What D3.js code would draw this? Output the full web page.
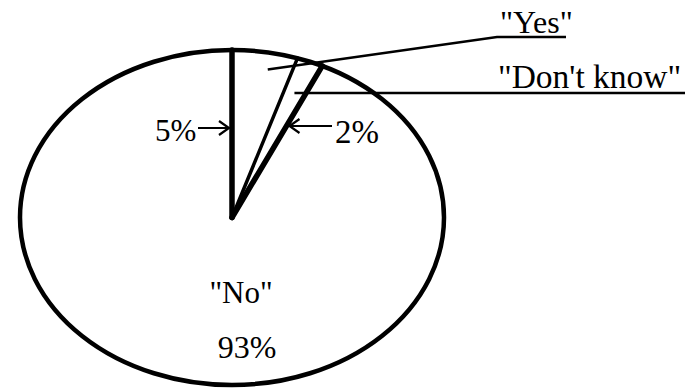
<!DOCTYPE html>
<html>
<head>
<meta charset="utf-8">
<script src="https://cdn.jsdelivr.net/npm/d3@7"></script>
<style>
  body { margin: 0; background: #fff; }
  svg { display: block; }
  text { font-family: 'Liberation Serif', 'Times New Roman', serif; fill: #000; }
</style>
</head>
<body>
<div id="chart"></div>
<script>
var categories = ['"Yes"', '"Don\'t know"', '"No"'];
var values = [5, 2, 93];
var pctLabels = ['5%', '2%', '93%'];

var width = 685, height = 392;
var cx = 232, cy = 217.5, rx = 212, ry = 167.5;

var svg = d3.select('#chart').append('svg').attr('width', width).attr('height', height);

var pie = d3.pie().sort(null).value(function (d) { return d; });
var arcs = pie(values);

// unit-circle space -> stretched (elliptical) page space
var sx = d3.scaleLinear().domain([-1, 1]).range([cx - rx, cx + rx]);
var sy = d3.scaleLinear().domain([-1, 1]).range([cy - ry, cy + ry]);
function pt(angle, r) { var p = d3.pointRadial(angle, r); return [sx(p[0]), sy(p[1])]; }
// x where the boundary ray at angle a crosses height y
function rayX(a, y) { var e = pt(a, 1); return cx + (e[0] - cx) * (cy - y) / (cy - e[1]); }

// slices (white), drawn in a circle and stretched
var arc = d3.arc().innerRadius(0).outerRadius(ry);
svg.append('g').attr('transform', 'translate(' + cx + ',' + cy + ') scale(' + (rx / ry) + ',1)')
  .selectAll('path').data(arcs).enter().append('path')
  .attr('d', arc).attr('fill', '#fff');

// outline
svg.append('ellipse').attr('cx', cx).attr('cy', cy).attr('rx', rx).attr('ry', ry)
  .attr('fill', 'none').attr('stroke', '#000').attr('stroke-width', 4.5);

// slice boundaries
var boundaryWidth = [5.5, 3.5, 5.5];
svg.selectAll('line.edge').data(arcs).enter().append('line').attr('class', 'edge')
  .attr('x1', cx).attr('y1', cy)
  .attr('x2', function (d) { return pt(d.startAngle, 1)[0]; })
  .attr('y2', function (d) { return pt(d.startAngle, 1)[1]; })
  .attr('stroke', '#000').attr('stroke-linecap', 'round')
  .attr('stroke-width', function (d, i) { return boundaryWidth[i]; });

function arrow(x0, x1, y) {
  var dir = x1 > x0 ? 1 : -1;
  svg.append('path')
    .attr('d', 'M' + x0 + ',' + y + 'L' + x1 + ',' + y +
      'M' + (x1 - dir * 10) + ',' + (y - 7) + 'L' + x1 + ',' + y + 'L' + (x1 - dir * 10) + ',' + (y + 7))
    .attr('fill', 'none').attr('stroke', '#000').attr('stroke-width', 2.2);
}

// "5%" -> start edge of "Yes"
svg.append('text').attr('x', 155).attr('y', 141).attr('font-size', 31).text(pctLabels[0]);
arrow(198, rayX(arcs[0].startAngle, 128) - 3, 128);

// "2%" -> end edge of "Don't know"
svg.append('text').attr('x', 335).attr('y', 143).attr('font-size', 33).text(pctLabels[1]);
arrow(332, rayX(arcs[1].endAngle, 126) + 3, 126);

// "Yes" leader
var yesA = arcs[0].startAngle + 0.6 * (arcs[0].endAngle - arcs[0].startAngle);
var yp = pt(yesA, 0.9);
svg.append('path').attr('d', 'M' + yp[0] + ',' + yp[1] + 'L497,37L566,37')
  .attr('fill', 'none').attr('stroke', '#000').attr('stroke-width', 2.5);
svg.append('text').attr('x', 500).attr('y', 33).attr('font-size', 32).text(categories[0]);

// "Don't know" leader
var dkA = (arcs[1].startAngle + arcs[1].endAngle) / 2;
var dp = pt(dkA, 0.8);
svg.append('path').attr('d', 'M' + dp[0] + ',93L685,93')
  .attr('fill', 'none').attr('stroke', '#000').attr('stroke-width', 2.5);
svg.append('text').attr('x', 498).attr('y', 88).attr('font-size', 33.5).text(categories[1]);

// "No"
svg.append('text').attr('x', 241).attr('y', 303).attr('font-size', 31).attr('text-anchor', 'middle').text(categories[2]);
svg.append('text').attr('x', 247).attr('y', 358).attr('font-size', 32).attr('text-anchor', 'middle').text(pctLabels[2]);
</script>
</body>
</html>
